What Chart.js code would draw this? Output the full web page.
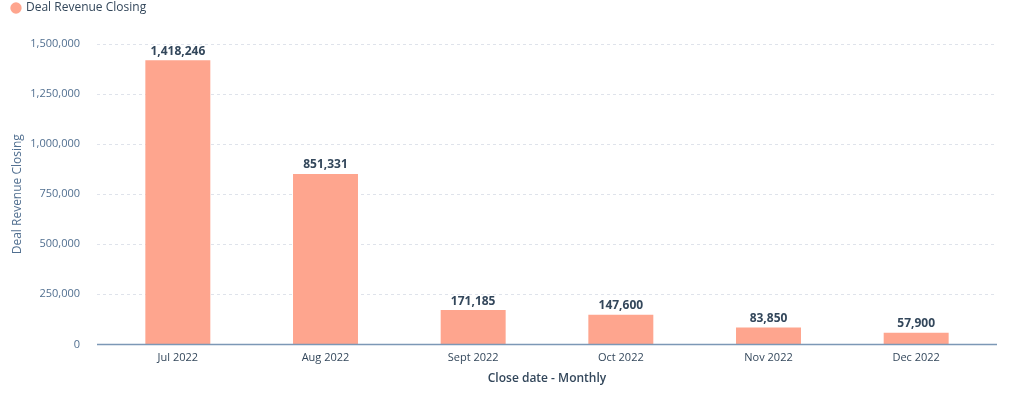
<!DOCTYPE html>
<html>
<head>
<meta charset="utf-8">
<script src="https://cdn.jsdelivr.net/npm/chart.js@4"></script>
<style>
  html, body { margin: 0; padding: 0; background: #fff; }
  #wrap { width: 1012px; height: 393px; position: relative; }
</style>
</head>
<body>
<div id="wrap"><canvas id="dealChart"></canvas></div>
<script>
const months = ['Jul 2022', 'Aug 2022', 'Sept 2022', 'Oct 2022', 'Nov 2022', 'Dec 2022'];
const revenue = [1418246, 851331, 171185, 147600, 83850, 57900];
const seriesName = 'Deal Revenue Closing';
const xTitle = 'Close date - Monthly';

const FONT = '"Open Sans", "Noto Sans", sans-serif';
const fmt = (v) => v.toLocaleString('en-US');
const GRID_OVERHANG = 7; // grid + axis line run a bit past the category band

// push plot down below the legend
const legendGap = {
    id: 'legendGap',
    beforeInit(chart) {
        const fit = chart.legend.fit;
        chart.legend.fit = function () {
            fit.bind(chart.legend)();
            this.height += 20;
        };
    }
};

// dashed grid + baseline, drawn wider than the chart area
const wideGrid = {
    id: 'wideGrid',
    beforeDatasetsDraw(chart) {
        const { ctx, chartArea, scales } = chart;
        const x0 = chartArea.left - GRID_OVERHANG;
        const x1 = chartArea.right + GRID_OVERHANG;
        ctx.save();
        ctx.strokeStyle = '#dfe3eb';
        ctx.lineWidth = 1;
        ctx.setLineDash([3, 3]);
        scales.y.ticks.forEach((t) => {
            if (t.value === 0) return;
            const y = Math.round(scales.y.getPixelForValue(t.value)) + 0.5;
            ctx.beginPath();
            ctx.moveTo(x0, y);
            ctx.lineTo(x1, y);
            ctx.stroke();
        });
        ctx.restore();
    },
    afterDatasetsDraw(chart) {
        const { ctx, chartArea, scales } = chart;
        const y = scales.y.getPixelForValue(0);
        ctx.save();
        ctx.strokeStyle = '#7c98b6';
        ctx.lineWidth = 1.5;
        ctx.beginPath();
        ctx.moveTo(chartArea.left - GRID_OVERHANG, y);
        ctx.lineTo(chartArea.right + GRID_OVERHANG, y);
        ctx.stroke();
        ctx.restore();
    }
};

// labels drawn above each bar
const barValueLabels = {
    id: 'barValueLabels',
    afterDatasetsDraw(chart) {
        const ctx = chart.ctx;
        const meta = chart.getDatasetMeta(0);
        ctx.save();
        ctx.font = 'bold 12px ' + FONT;
        ctx.fillStyle = '#33475b';
        ctx.textAlign = 'center';
        ctx.textBaseline = 'bottom';
        meta.data.forEach((bar, i) => {
            ctx.fillText(fmt(revenue[i]), bar.x, bar.y - 3);
        });
        ctx.restore();
    }
};

new Chart(document.getElementById('dealChart'), {
    type: 'bar',
    data: {
        labels: months,
        datasets: [{
            label: seriesName,
            data: revenue,
            backgroundColor: '#fea58e',
            borderWidth: 0,
            barPercentage: 0.44,
            categoryPercentage: 1.0
        }]
    },
    options: {
        responsive: true,
        maintainAspectRatio: false,
        animation: false,
        layout: { padding: { top: 0, right: 22, bottom: 7, left: 10 } },
        scales: {
            y: {
                min: 0,
                max: 1500000,
                afterFit: (scale) => { scale.width = 94; },
                ticks: {
                    stepSize: 250000,
                    color: '#516f90',
                    font: { family: FONT, size: 11 },
                    padding: 24,
                    callback: (v) => fmt(v)
                },
                grid: { display: false, drawTicks: false },
                border: { display: false },
                title: {
                    display: true,
                    text: seriesName,
                    color: '#516f90',
                    font: { family: FONT, size: 12 },
                    padding: { top: 0, bottom: 0 }
                }
            },
            x: {
                grid: { display: false, drawTicks: false },
                border: { display: false },
                ticks: {
                    color: '#33475b',
                    font: { family: FONT, size: 11 },
                    padding: 7
                },
                title: {
                    display: true,
                    text: xTitle,
                    color: '#33475b',
                    font: { family: FONT, size: 12, weight: '600' },
                    padding: { top: 0, bottom: 0 }
                }
            }
        },
        plugins: {
            legend: {
                position: 'top',
                align: 'start',
                labels: {
                    usePointStyle: true,
                    pointStyle: 'circle',
                    boxWidth: 8,
                    boxHeight: 8,
                    color: '#33475b',
                    font: { family: FONT, size: 12 },
                    padding: 2
                }
            },
            tooltip: { enabled: false }
        }
    },
    plugins: [legendGap, wideGrid, barValueLabels]
});
</script>
</body>
</html>
